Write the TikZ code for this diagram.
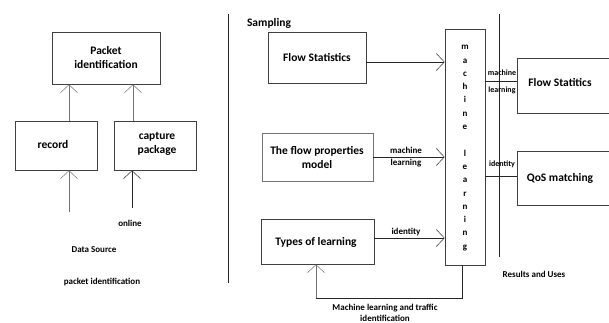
\documentclass[tikz,border=0pt]{standalone}
\usepackage{fontspec}
\setmainfont{Carlito}
\usetikzlibrary{arrows.meta}
\begin{document}
\begin{tikzpicture}[x=1pt,y=-1pt,
  box/.style={draw=black!75,line width=0.7pt,inner sep=0pt},
  boxtext/.style={font=\bfseries\fontsize{11.5}{14}\selectfont,align=center},
  small/.style={font=\bfseries\fontsize{9}{11}\selectfont,align=center},
  tiny/.style={font=\bfseries\fontsize{8}{9}\selectfont,align=center},
  conn/.style={line width=0.7pt,black!85},
  arr/.style={conn,-{Straight Barb[length=8pt,width=17pt,line width=0.5pt]}}]
\useasboundingbox (0,0) rectangle (609,323);
% left panel
\node[box,minimum width=108pt,minimum height=52pt] (pkt) at (106,58) {};
\node[boxtext] at (pkt) {Packet\\identification};
\node[box,minimum width=82pt,minimum height=49pt] (rec) at (56,145.5) {};
\node[boxtext] at (53,145) {record};
\node[box,minimum width=82pt,minimum height=49pt] (cap) at (155,145.5) {};
\node[boxtext] at (157,144) {capture\\package};
\coordinate (recin) at (69,212);
\coordinate (capin) at (132,208);
\draw[arr,black!55] (rec.north -| 69,0) -- (pkt.south -| 69,0);
\draw[arr,black!55] (cap.north -| 133,0) -- (pkt.south -| 133,0);
\draw[arr,black!55] (recin) -- (rec.south -| recin);
\draw[arr] (capin) -- (cap.south -| capin);
\node[small] (online) at (130,223) {online};
\node[small] (ds) at (94,250) {Data Source};
\node[small] (pid) at (102,282) {packet identification};
\coordinate (d1a) at (228,14);
\coordinate (d1b) at (228,283);
\draw[conn] (d1a) -- (d1b);
% middle panel
\node[boxtext] (samp) at (269,23) {Sampling};
\node[box,minimum width=98pt,minimum height=51pt] (fs) at (317,57.5) {};
\node[boxtext] at (317,58) {Flow Statistics};
\node[box,minimum width=111pt,minimum height=48pt,draw=black!55] (fp) at (317.5,157) {};
\node[boxtext] at (317,157) {The flow properties\\model};
\node[box,minimum width=113pt,minimum height=45pt] (tl) at (317.5,241.5) {};
\node[boxtext] at (316,242) {Types of learning};
\node[box,minimum width=40pt,minimum height=236pt] (ml) at (465,147) {};
\node[font=\bfseries\fontsize{9}{13.3}\selectfont,align=center] at (465,148)
  {m\\a\\c\\h\\i\\n\\e\\[13.3pt]l\\e\\a\\r\\n\\i\\n\\g};
\draw[arr] (fs.east |- 0,62) -- (ml.west |- 0,62);
\draw[arr] (fp.east |- 0,157) -- (ml.west |- 0,157);
\draw[arr] (tl.east |- 0,238) -- (ml.west |- 0,238);
\node[small] at (406,150) {machine};
\node[small] at (406,163) {learning};
\node[small] at (406,232) {identity};
\coordinate (fb1) at (462,298);
\coordinate (fb2) at (316,298);
\draw[conn] (ml.south -| fb1) -- (fb1) -- (fb2);
\draw[arr,black!55] (fb2) -- (tl.south -| fb2);
\node[small] at (385,308.5) {Machine learning and traffic};
\node[small] at (385,318) {identification};
% right panel
\coordinate (d2a) at (499,14);
\coordinate (d2b) at (499,257);
\draw[conn] (d2a) -- (d2b);
\node[box,minimum width=96pt,minimum height=55pt,anchor=west] (fs2) at (517,85.5) {};
\node[boxtext] at (560,83) {Flow Statitics};
\node[box,minimum width=96pt,minimum height=54pt,anchor=west] (qos) at (517,178) {};
\node[boxtext] at (560,178) {QoS matching};
\draw[conn] (ml.east |- 0,81) -- (fs2.west |- 0,81);
\draw[conn] (ml.east |- 0,176) -- (qos.west |- 0,176);
\node[tiny] at (502,73) {machine};
\node[tiny] at (502,90) {learning};
\node[tiny] at (502,164) {identity};
\node[small] at (534,274) {Results and Uses};
\end{tikzpicture}
\end{document}
